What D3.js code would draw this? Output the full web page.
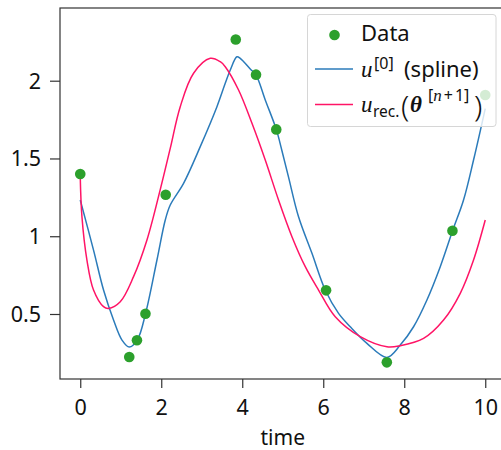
<!DOCTYPE html>
<html>
<head>
<meta charset="utf-8">
<script src="https://cdn.jsdelivr.net/npm/d3@7"></script>
<style>
  html, body { margin: 0; padding: 0; background: #fff; }
  svg { display: block; }
</style>
</head>
<body>
<svg id="chart" width="501" height="450"></svg>
<script>
// ---- data ----
const dataT = [0, 1.21, 1.40, 1.61, 2.11, 3.84, 4.34, 4.84, 6.07, 7.57, 9.19, 10.0];
const dataY = [1.40, 0.223, 0.331, 0.502, 1.267, 2.265, 2.039, 1.687, 0.652, 0.189, 1.035, 1.908];

const splineT = [0, 0.328, 0.575, 0.822, 1.03, 1.21, 1.415, 1.612, 1.894, 2.099, 2.222, 2.551, 2.963, 3.375, 3.58, 3.704, 3.869, 3.951, 4.198, 4.338, 4.568, 4.84, 4.98, 5.143, 5.39, 5.721, 6.049, 6.378, 6.667, 7.079, 7.573, 7.901, 8.23, 8.56, 8.889, 9.193, 9.464, 9.711, 9.919, 10];
const splineY = [1.233, 0.911, 0.654, 0.461, 0.332, 0.287, 0.337, 0.502, 0.847, 1.104, 1.201, 1.34, 1.576, 1.833, 1.983, 2.069, 2.154, 2.144, 2.075, 2.037, 1.876, 1.687, 1.55, 1.38, 1.125, 0.89, 0.654, 0.504, 0.418, 0.311, 0.221, 0.300, 0.418, 0.590, 0.804, 1.035, 1.233, 1.49, 1.726, 1.82];

const recT = [0, 0.042, 0.165, 0.328, 0.575, 0.699, 0.988, 1.316, 1.647, 1.975, 2.222, 2.469, 2.798, 3.21, 3.457, 3.58, 3.909, 4.24, 4.568, 4.896, 5.227, 5.556, 5.884, 6.296, 6.914, 7.573, 7.901, 8.477, 8.971, 9.383, 9.711, 10];
const recY = [1.383, 1.125, 0.847, 0.654, 0.547, 0.536, 0.579, 0.740, 0.976, 1.30, 1.565, 1.833, 2.048, 2.144, 2.122, 2.09, 1.94, 1.726, 1.49, 1.233, 0.997, 0.804, 0.654, 0.482, 0.354, 0.289, 0.296, 0.343, 0.461, 0.633, 0.847, 1.104];

const xTicks = [0, 2, 4, 6, 8, 10];
const yTicks = [0.5, 1, 1.5, 2];
const xLabel = "time";

// ---- layout ----
const L = 60, R = 505.5, T = 8, B = 379;
const svg = d3.select("#chart");
const x = d3.scaleLinear().domain([-0.5, 10.5]).range([L, R]);
const y = d3.scaleLinear().domain([0.082, 2.4675]).range([B, T]);

const fontTick = "'Noto Sans', 'DejaVu Sans', sans-serif";
const fontMath = "'Liberation Serif', 'DejaVu Serif', serif";
const BLUE = "#2b7bba", PINK = "#ff1466", GREEN = "#2ca02c";

// curves
const line = d3.line().x(d => x(d[0])).y(d => y(d[1])).curve(d3.curveCatmullRom.alpha(0.5));
svg.append("path")
  .attr("d", line(splineT.map((t, i) => [t, splineY[i]])))
  .attr("fill", "none").attr("stroke", BLUE).attr("stroke-width", 1.5);
svg.append("path")
  .attr("d", line(recT.map((t, i) => [t, recY[i]])))
  .attr("fill", "none").attr("stroke", PINK).attr("stroke-width", 1.5);

// points
svg.append("g").selectAll("circle")
  .data(dataT.map((t, i) => [t, dataY[i]]))
  .join("circle")
  .attr("cx", d => x(d[0])).attr("cy", d => y(d[1]))
  .attr("r", 5.3).attr("fill", GREEN);

// axes
const gx = svg.append("g").attr("transform", `translate(0,${B})`)
  .call(d3.axisBottom(x).tickValues(xTicks).tickSize(9).tickFormat(d3.format("")));
gx.select(".domain").remove();
gx.selectAll(".tick line").attr("stroke", "#333").attr("stroke-width", 1.2);
gx.selectAll(".tick text").attr("y", 36).attr("dy", 0)
  .attr("font-family", fontTick).attr("font-size", 21.5).attr("fill", "#111");

const gy = svg.append("g").attr("transform", `translate(${L},0)`)
  .call(d3.axisLeft(y).tickValues(yTicks).tickSize(10).tickFormat(d3.format("")));
gy.select(".domain").remove();
gy.selectAll(".tick line").attr("stroke", "#333").attr("stroke-width", 1.2);
gy.selectAll(".tick text").attr("x", -19).attr("dy", "0.34em")
  .attr("font-family", fontTick).attr("font-size", 21.5).attr("fill", "#111");

svg.append("text").attr("x", (L + R) / 2).attr("y", 445)
  .attr("text-anchor", "middle").attr("font-family", fontTick).attr("font-size", 21)
  .attr("fill", "#111").text(xLabel);

// frame
svg.append("rect").attr("x", L).attr("y", T).attr("width", R - L).attr("height", B - T)
  .attr("fill", "none").attr("stroke", "#333").attr("stroke-width", 1.2);

// legend
const lg = svg.append("g");
lg.append("rect").attr("x", 307.5).attr("y", 14.5).attr("width", 188.5).attr("height", 112)
  .attr("rx", 3).attr("fill", "#fff").attr("fill-opacity", 0.8)
  .attr("stroke", "#d6d6d6").attr("stroke-width", 1);
lg.append("circle").attr("cx", 334.5).attr("cy", 35).attr("r", 5.3).attr("fill", GREEN);
lg.append("text").attr("x", 361).attr("y", 41).attr("font-family", fontTick)
  .attr("font-size", 22).attr("fill", "#111").text("Data");

// entry 2: u^[0] (spline)
lg.append("line").attr("x1", 315).attr("x2", 353).attr("y1", 69).attr("y2", 69)
  .attr("stroke", BLUE).attr("stroke-width", 1.5);
const r2 = 77;
lg.append("text").attr("x", 361).attr("y", r2).attr("font-family", fontMath)
  .attr("font-style", "italic").attr("font-size", 23).attr("fill", "#111").text("u");
lg.append("text").attr("x", 374).attr("y", r2 - 8).attr("font-family", fontTick)
  .attr("font-size", 16).attr("fill", "#111").text("[0]");
lg.append("text").attr("x", 404).attr("y", r2).attr("font-family", fontTick)
  .attr("font-size", 22).attr("fill", "#111").text("(spline)");

// entry 3: u_rec.(θ^[n+1])
lg.append("line").attr("x1", 315).attr("x2", 353).attr("y1", 104.5).attr("y2", 104.5)
  .attr("stroke", PINK).attr("stroke-width", 1.5);
const r3 = 112;
lg.append("text").attr("x", 361).attr("y", r3).attr("font-family", fontMath)
  .attr("font-style", "italic").attr("font-size", 23).attr("fill", "#111").text("u");
lg.append("text").attr("x", 373).attr("y", r3 + 5).attr("font-family", fontTick)
  .attr("font-size", 15.5).attr("fill", "#111").text("rec.");
lg.append("text").attr("x", 401).attr("y", r3 + 5).attr("font-family", fontTick)
  .attr("font-size", 30).attr("font-weight", 300).attr("fill", "#111").text("(");
lg.append("text").attr("x", 410).attr("y", r3).attr("font-family", fontMath)
  .attr("font-style", "italic").attr("font-weight", "bold").attr("font-size", 23)
  .attr("fill", "#111").text("θ");
const sup = lg.append("text").attr("x", 428).attr("y", r3 - 11).attr("font-family", fontTick)
  .attr("font-size", 16).attr("fill", "#111");
sup.append("tspan").text("[");
sup.append("tspan").attr("font-family", fontMath).attr("font-style", "italic").attr("font-size", 17).text("n");
sup.append("tspan").attr("dx", 2).text("+");
sup.append("tspan").attr("dx", 2).text("1]");
lg.append("text").attr("x", 474).attr("y", r3 + 5).attr("font-family", fontTick)
  .attr("font-size", 30).attr("font-weight", 300).attr("fill", "#111").text(")");
</script>
</body>
</html>
